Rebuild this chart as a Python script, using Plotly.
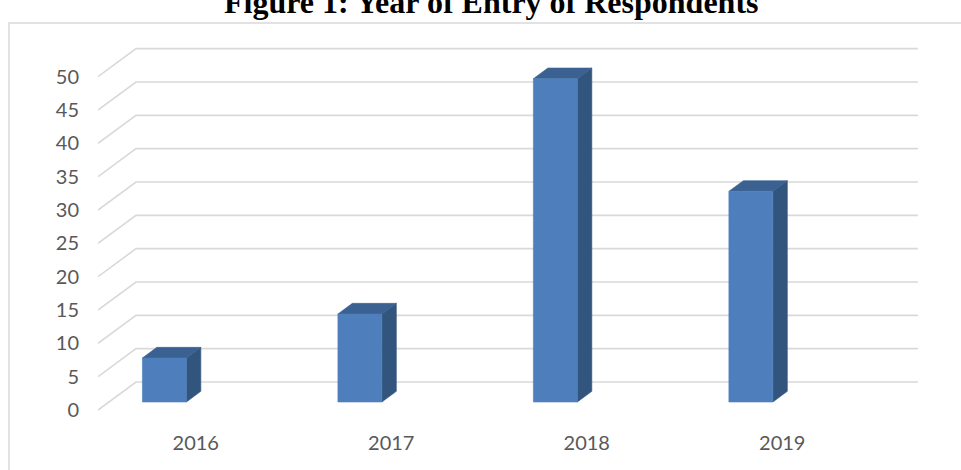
import plotly.graph_objects as go

# Year of entry of respondents (share of respondents, %)
years = ["2016", "2017", "2018", "2019"]
shares = [6.6, 13.2, 48.5, 31.6]
y_ticks = [0, 5, 10, 15, 20, 25, 30, 35, 40, 45, 50]

# Oblique "3-D" projection: depth vector of the floor, in axis units
DEPTH_X = 0.1944      # category units
DEPTH_Y = 4.2         # value units
# Column geometry, in category units / fraction of floor depth
COL_SHIFT = -0.216
COL_HALF = 0.1125
COL_FRONT = 0.286
COL_DEPTH = 0.38

FRONT = "#4E7FBC"
TOP = "#3A6191"
SIDE = "#32557E"
GRID = "#D9D9D9"
LABEL = "#595959"

fig = go.Figure()

# Floor/back-wall gridlines: diagonal from the front edge, then across the back wall
gx, gy = [], []
x_left = -0.5
x_right = len(years) - 0.5
for t in y_ticks:
    gx += [x_left, x_left + DEPTH_X, x_right + DEPTH_X, None]
    gy += [t, t + DEPTH_Y, t + DEPTH_Y, None]
fig.add_trace(go.Scatter(x=gx, y=gy, mode="lines",
                         line=dict(color=GRID, width=1.6),
                         hoverinfo="skip", showlegend=False))


def face(xs, ys, color):
    fig.add_trace(go.Scatter(x=xs + [xs[0]], y=ys + [ys[0]], mode="lines",
                             fill="toself", fillcolor=color,
                             line=dict(color=color, width=0.6),
                             hoverinfo="skip", showlegend=False))


ddx = COL_DEPTH * DEPTH_X
ddy = COL_DEPTH * DEPTH_Y
for i, v in enumerate(shares):
    c = i + COL_SHIFT + COL_FRONT * DEPTH_X
    xl, xr = c - COL_HALF, c + COL_HALF
    yb = COL_FRONT * DEPTH_Y
    yt = v + COL_FRONT * DEPTH_Y
    # side face
    face([xr, xr + ddx, xr + ddx, xr], [yb, yb + ddy, yt + ddy, yt], SIDE)
    # top face
    face([xl, xr, xr + ddx, xl + ddx], [yt, yt, yt + ddy, yt + ddy], TOP)
    # front face
    face([xl, xr, xr, xl], [yb, yb, yt, yt], FRONT)

fig.update_layout(
    width=961, height=470,
    margin=dict(l=98, r=43, t=30, b=55),
    paper_bgcolor="white", plot_bgcolor="white",
    font=dict(family="Lato", size=20, color=LABEL),
    xaxis=dict(range=[x_left, x_right + DEPTH_X],
               tickvals=list(range(len(years))), ticktext=years,
               showgrid=False, zeroline=False, showline=False,
               ticks="", ticklabelstandoff=14, fixedrange=True),
    yaxis=dict(range=[-0.75, 57.0], tickvals=y_ticks,
               showgrid=False, zeroline=False, showline=False,
               ticks="", ticklabelstandoff=18, fixedrange=True),
    shapes=[dict(type="rect", xref="paper", yref="paper",
                 x0=-0.1085, x1=1.2, y0=-0.3, y1=1.018,
                 line=dict(color=GRID, width=1.5), fillcolor="rgba(0,0,0,0)",
                 layer="below")],
    annotations=[dict(text="<b>Figure 1: Year of Entry of Respondents</b>",
                      xref="paper", yref="paper", x=(491.8 - 98) / 820,
                      y=1.0727, xanchor="center", yanchor="middle",
                      showarrow=False,
                      font=dict(family="Liberation Serif", size=32,
                                color="black"))],
)

fig.write_html("out.html")
